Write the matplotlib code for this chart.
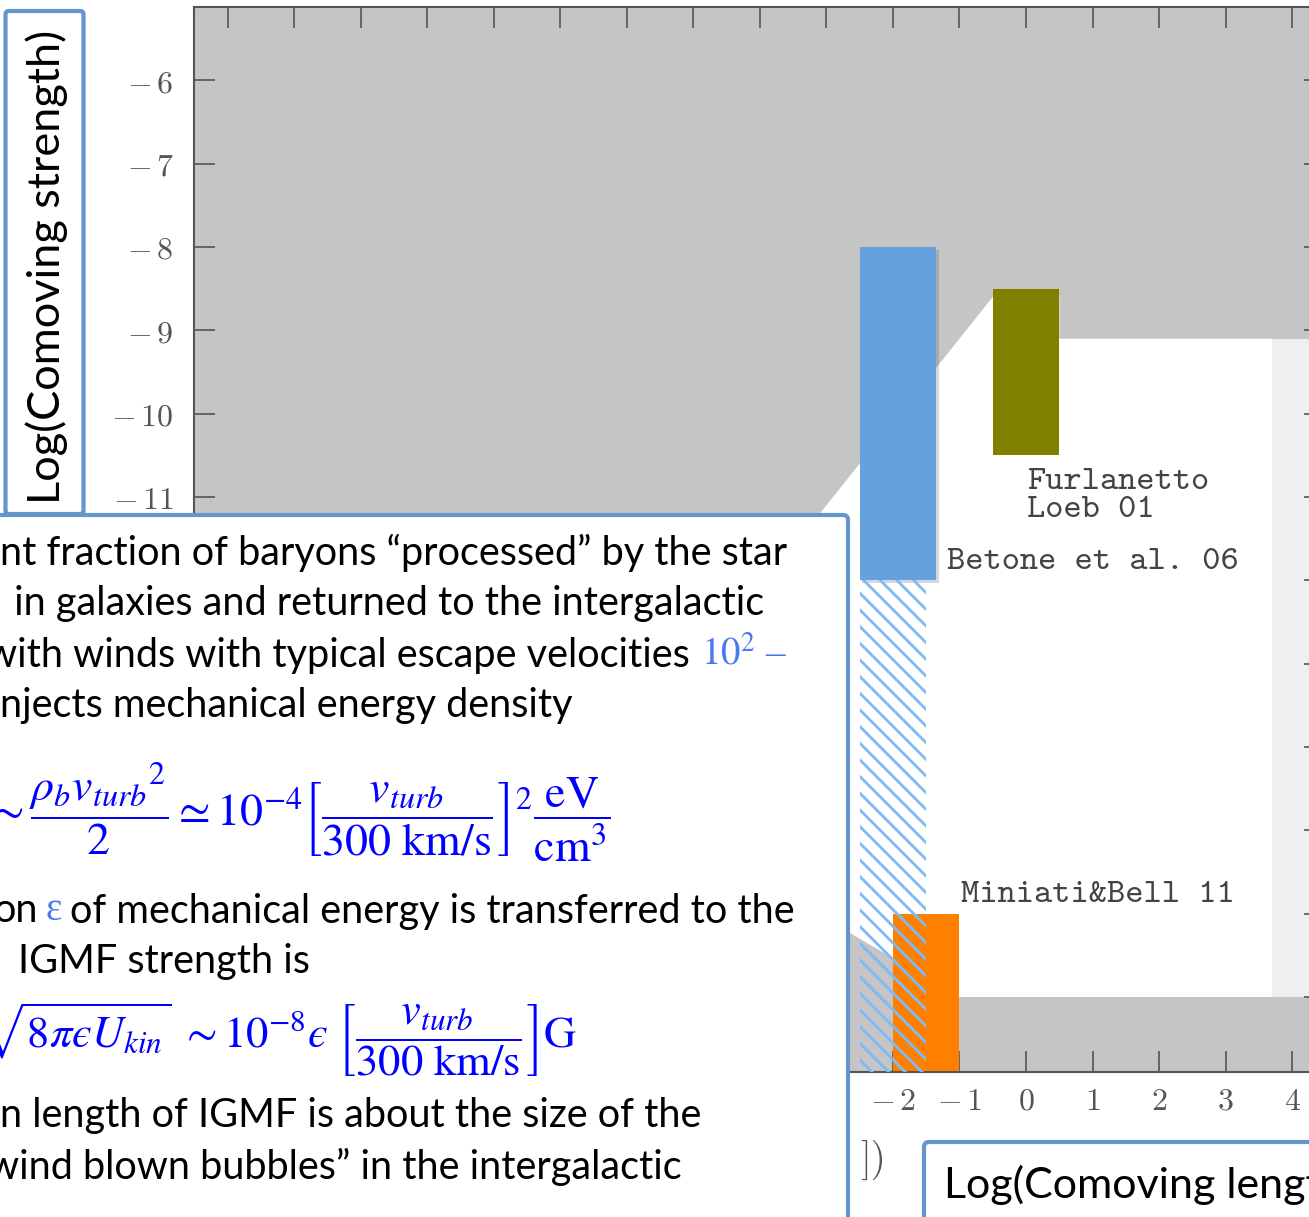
import matplotlib.pyplot as plt
import matplotlib.patheffects as pe
from matplotlib.patches import FancyBboxPatch

plt.rcParams['mathtext.fontset'] = 'cm'

# axes ranges: log comoving length vs log comoving strength
x_range = [-12.5, 4.5]
y_range = [-17.9, -5.12]
x_ticks = list(range(-12, 5))
y_ticks = list(range(-17, -5))

# allowed region (white) and the light strip on the right
white_x = [-0.5, -5.5, -5.5, -1.0, 3.7, 3.7, 0.5, 0.5]
white_y = [-8.6, -13.6, -14.9, -17.0, -17.0, -9.1, -9.1, -8.6]
strip_x = [3.7, 4.5]
strip_y = [-17.0, -9.1]

# constraint boxes
bar_names = ['Betone et al. 06', 'Furlanetto\nLoeb 01', 'Miniati&Bell 11']
bar_x0 = [-2.5, -0.5, -2.0]
bar_x1 = [-1.35, 0.5, -1.0]
bar_y0 = [-12.0, -10.5, -17.9]
bar_y1 = [-8.0, -8.5, -16.0]
bar_colors = ['#65a1dd', '#7f7f00', '#ff8000']
hatch_x = [-2.5, -1.5]
hatch_y = [-17.9, -12.0]

# slide text lying over the plot
body_lines = [
    (0, 553, 'nt fraction of baryons \u201cprocessed\u201d by the star'),
    (4, 604, ' in galaxies and returned to the intergalactic'),
    (0, 706, 'njects mechanical energy density'),
    (18, 962, 'IGMF strength is'),
    (0, 1116, 'n length of IGMF is about the size of the'),
    (-12, 1167, 'wind blown bubbles\u201d in the intergalactic'),
]
formula_1 = (r'$\sim\dfrac{\rho_b {v_{turb}}^{2}}{2}\simeq 10^{-4}'
             r'\left[\dfrac{v_{turb}}{300\ \mathrm{km/s}}\right]^{2}'
             r'\dfrac{\mathrm{eV}}{\mathrm{cm}^{3}}$')
formula_2 = (r'$\sqrt{8\pi' + '\u03f5' + r'U_{kin}}\ \sim 10^{-8}' + '\u03f5' + r'\ '
             r'\left[\dfrac{v_{turb}}{300\ \mathrm{km/s}}\right]\mathrm{G}$')

W, H = 1309, 1217
fig = plt.figure(figsize=(W / 100, H / 100), dpi=100)

px_left = 1026 + x_range[0] * 66.53
px_right = 1026 + x_range[1] * 66.53
ax = fig.add_axes([px_left / W, 1 - 1072 / H, (px_right - px_left) / W, (1072 - 7) / H])
ax.set_xlim(x_range)
ax.set_ylim(y_range)
ax.set_facecolor('#c5c5c5')

ax.fill(white_x, white_y, color='white', lw=0, zorder=1)
ax.fill_between(strip_x, strip_y[0], strip_y[1], color='#efefef', lw=0, zorder=1)

for i in range(len(bar_names)):
    b = ax.bar(bar_x0[i], bar_y1[i] - bar_y0[i], width=bar_x1[i] - bar_x0[i],
               bottom=bar_y0[i], align='edge', color=bar_colors[i], lw=0, zorder=2)
    if i == 0:
        b[0].set_path_effects([pe.SimplePatchShadow(offset=(2, -2), alpha=0.18), pe.Normal()])

plt.rcParams['hatch.linewidth'] = 2.0
ax.bar(hatch_x[0], hatch_y[1] - hatch_y[0], width=hatch_x[1] - hatch_x[0],
       bottom=hatch_y[0], align='edge', color='none', edgecolor='#7dbaf6',
       hatch='\\\\', lw=0, zorder=3)

lab_kw = dict(family='cmtt10', fontsize=25, color='#444444', zorder=4)
ax.text(-1.19, -11.79, bar_names[0], ha='left', va='center', **lab_kw)
ax.text(0.02, -10.99, bar_names[1], ha='left', va='center', linespacing=0.95, **lab_kw)
ax.text(-0.98, -15.78, bar_names[2], ha='left', va='center', **lab_kw)


def tick_label(v, hidden_below):
    # labels under the slide text box are not visible in the slide
    if v <= hidden_below:
        return ''
    return f'${v}$'.replace('-', r'-\,')


ax.set_xticks(x_ticks, [tick_label(v, -3) for v in x_ticks])
ax.set_yticks(y_ticks, [tick_label(v, -12) for v in y_ticks])
ax.tick_params(direction='in', length=15, width=1.2, color='#555555',
               top=True, right=True, labelsize=23, labelcolor='#555555')
ax.tick_params(axis='y', pad=15)
ax.tick_params(axis='x', pad=10)
for s in ax.spines.values():
    s.set_color('#555555')
    s.set_linewidth(1.5)

# overlay in pixel units for the slide boxes
ov = fig.add_axes([0, 0, 1, 1], zorder=5)
ov.set_xlim(0, W)
ov.set_ylim(H, 0)
ov.axis('off')

box_ec = '#6596cb'
ov.add_patch(FancyBboxPatch((-30, 515), 878, 760, boxstyle='round,pad=0,rounding_size=5',
                            fc='white', ec=box_ec, lw=3))
ov.add_patch(FancyBboxPatch((5.5, 11), 78, 503, boxstyle='round,pad=0,rounding_size=3',
                            fc='white', ec=box_ec, lw=3))
ov.add_patch(FancyBboxPatch((924, 1142), 500, 200, boxstyle='round,pad=0,rounding_size=5',
                            fc='white', ec=box_ec, lw=3))

txt_kw = dict(family='Lato', fontsize=28.5, color='black', va='center', ha='left')
ov.text(47, 267, 'Log(Comoving strength)', rotation=90, ha='center', va='center',
        family='Lato', fontsize=32.5)
ov.text(944, 1185, 'Log(Comoving length)', family='Lato', fontsize=31, ha='left', va='center')
ov.text(886, 1160, '])', ha='right', va='center', fontsize=28, family='cmr10', color='#555555')

for x, y, s in body_lines:
    ov.text(x, y, s, **txt_kw)

light_blue = '#4a78f0'
t3 = ov.text(-14, 655, 'with winds with typical escape velocities', **txt_kw)
ov.annotate('$10^2$ \u2013', xy=(1, 0.5), xycoords=t3,
            xytext=(8, 0), textcoords='offset points', va='center', ha='left',
            fontsize=28, color=light_blue, family='Liberation Serif', math_fontfamily='stix')

t5 = ov.text(-7, 911, 'on', **txt_kw)
t5b = ov.annotate('\u03b5', xy=(1, 0.5), xycoords=t5, xytext=(6, 0), textcoords='offset points',
                  va='center', ha='left', fontsize=28, color=light_blue, family='Liberation Serif')
ov.annotate('of mechanical energy is transferred to the', xy=(1, 0.5), xycoords=t5b,
            xytext=(6, 0), textcoords='offset points', **txt_kw)

ov.text(-14, 812, formula_1, ha='left', va='center', fontsize=33, color='blue',
        math_fontfamily='stix')
ov.text(-20, 1040, formula_2, ha='left', va='center', fontsize=32, color='blue',
        math_fontfamily='stix')

fig.savefig('out.png', dpi=100)
